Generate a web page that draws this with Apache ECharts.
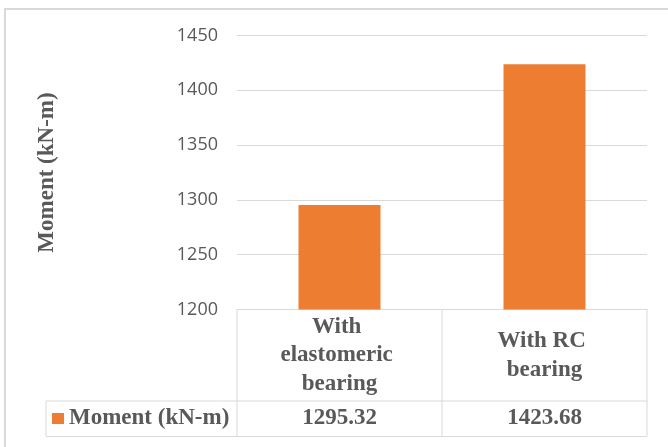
<!DOCTYPE html>
<html>
<head>
<meta charset="utf-8">
<script src="https://cdn.jsdelivr.net/npm/echarts@6/dist/echarts.min.js"></script>
<style>
  html, body { margin: 0; padding: 0; background: #fff; }
  #chart { width: 668px; height: 447px; }
</style>
</head>
<body>
<div id="chart"></div>
<script>
// Bending moment for the two bearing types
const categories = ['With elastomeric bearing', 'With RC bearing'];
const seriesName = 'Moment (kN-m)';
const moments = [1295.32, 1423.68];
const yTicks = [1200, 1250, 1300, 1350, 1400, 1450];

const TEXT = '#595959';
const LINE = '#d9d9d9';
const SERIF = '"Liberation Serif", "Times New Roman", serif';

// Layout of the plot and the data table underneath it
const plotL = 237, plotR = 647, plotT = 35.5, plotB = 309.5;
const rowSep = 401, tableB = 436.5, legendL = 46;
const midX = (plotL + plotR) / 2;

const chart = echarts.init(document.getElementById('chart'));

function hLine(x1, x2, y) {
  return { type: 'line', shape: { x1: x1, y1: y, x2: x2, y2: y }, style: { stroke: LINE, lineWidth: 1 }, silent: true };
}
function vLine(x, y1, y2) {
  return { type: 'line', shape: { x1: x, y1: y1, x2: x, y2: y2 }, style: { stroke: LINE, lineWidth: 1 }, silent: true };
}

chart.setOption({
  animation: false,
  backgroundColor: '#fff',
  grid: { left: plotL, right: 668 - plotR, top: plotT, bottom: 447 - plotB, containLabel: false },
  legend: {
    data: [seriesName],
    left: 52, top: 407,
    padding: 0,
    icon: 'rect',
    itemWidth: 12, itemHeight: 11,
    textStyle: { color: TEXT, fontFamily: SERIF, fontWeight: 'bold', fontSize: 23 }
  },
  xAxis: [
    {
      type: 'category',
      data: categories,
      axisLine: { show: true, lineStyle: { color: LINE, width: 1 } },
      axisTick: { show: false },
      axisLabel: {
        color: TEXT, fontFamily: SERIF, fontWeight: 'bold', fontSize: 23,
        lineHeight: 28.5, verticalAlign: 'middle', margin: 46,
        width: 130, overflow: 'break', interval: 0, align: 'center'
      }
    },
    {
      type: 'category',
      data: categories,
      position: 'bottom',
      axisLine: { show: false },
      axisTick: { show: false },
      splitLine: { show: false },
      axisLabel: {
        color: TEXT, fontFamily: SERIF, fontWeight: 'bold', fontSize: 23,
        verticalAlign: 'middle', margin: 109, interval: 0,
        formatter: function (v, i) { return moments[i].toFixed(2); }
      }
    }
  ],
  yAxis: {
    type: 'value',
    min: yTicks[0], max: yTicks[yTicks.length - 1], interval: 50,
    name: seriesName,
    nameLocation: 'middle', nameRotate: 90, nameGap: 178,
    nameTextStyle: { color: TEXT, fontFamily: SERIF, fontWeight: 'bold', fontSize: 23 },
    axisLine: { show: false },
    axisTick: { show: false },
    axisLabel: {
      color: TEXT, fontFamily: '"Open Sans", "Liberation Sans", sans-serif', fontSize: 18, margin: 19,
      formatter: function (v) { return String(v); }
    },
    splitLine: { lineStyle: { color: LINE, width: 1 } }
  },
  series: [{
    name: seriesName,
    type: 'bar',
    xAxisIndex: 0,
    data: moments,
    barWidth: '40%',
    itemStyle: { color: '#ED7D31' }
  }],
  graphic: [
    // chart frame
    { type: 'rect', shape: { x: 5, y: 9, width: 720, height: 500 }, style: { fill: null, stroke: LINE, lineWidth: 2 }, silent: true, z: -1 },
    // data table grid
    hLine(legendL, plotR, rowSep),
    hLine(legendL, plotR, tableB),
    vLine(legendL, rowSep, tableB),
    vLine(plotL, plotB, tableB),
    vLine(midX, plotB, tableB),
    vLine(plotR, plotB, tableB)
  ]
});
</script>
</body>
</html>
